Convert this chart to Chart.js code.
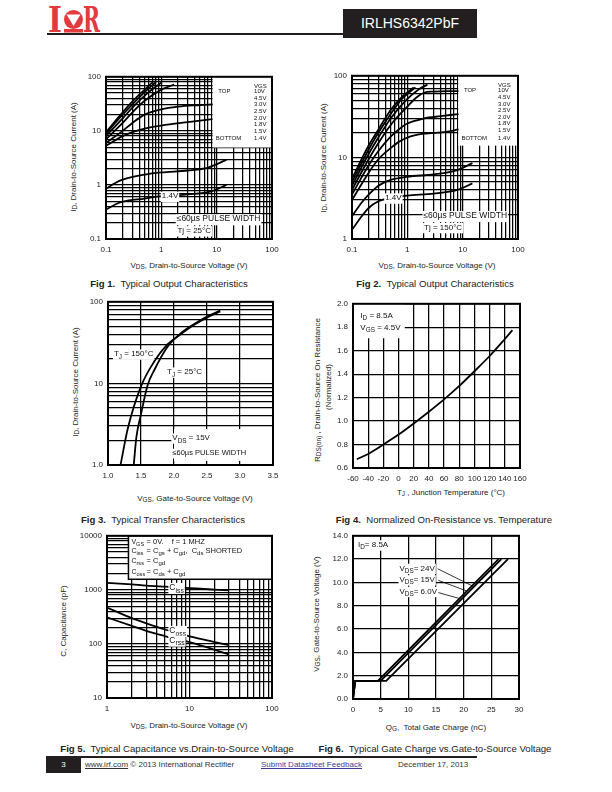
<!DOCTYPE html>
<html>
<head>
<meta charset="utf-8">
<script src="https://cdn.jsdelivr.net/npm/chart.js@4.4.0/dist/chart.umd.min.js"></script>
<style>
body{margin:0;background:#fff;font-family:"Liberation Sans",Arial,sans-serif;color:#222}
#page{position:relative;width:612px;height:792px;overflow:hidden;background:#fff}
.abs{position:absolute;white-space:nowrap}
canvas{position:absolute}
.cap{position:absolute;font-size:9.6px;white-space:nowrap;transform:translate(-50%,-50%)}
.xt{position:absolute;font-size:8px;white-space:nowrap;transform:translate(-50%,-50%)}
.yt{position:absolute;font-size:8px;white-space:nowrap;transform:translate(-50%,-50%) rotate(-90deg)}
sub{font-size:0.8em;vertical-align:-0.3em;line-height:0}
</style>
</head>
<body>
<div id="page">
  <!-- header -->
  <svg class="abs" style="left:47px;top:5px" width="56" height="29">
    <text x="1" y="27" font-family="DejaVu Serif" font-weight="bold" font-size="36" fill="#e23b3f" textLength="14" lengthAdjust="spacingAndGlyphs">I</text>
    <circle cx="26.5" cy="14.5" r="9.5" fill="#e23b3f"/>
    <polygon points="19.5,9.5 33.5,9.5 26.5,21" fill="#fff"/>
    <rect x="17" y="24" width="19" height="3.5" fill="#e23b3f"/>
    <text x="36" y="27" font-family="DejaVu Serif" font-weight="bold" font-size="36" fill="#e23b3f" textLength="17" lengthAdjust="spacingAndGlyphs">R</text>
  </svg>
  <div class="abs" style="left:47px;top:33px;width:296px;height:2px;background:#231f20"></div>
  <div class="abs" style="left:343px;top:9px;width:134px;height:29px;background:#231f20;color:#fff;font-size:14px;line-height:29px;text-align:center">IRLHS6342PbF</div>

  <!-- axis titles and captions -->
  <div class="xt" style="left:189px;top:265px">V<sub>DS</sub>, Drain-to-Source Voltage (V)</div>
  <div class="yt" style="left:73px;top:157px">I<sub>D</sub>, Drain-to-Source Current (A)</div>
  <div class="cap" style="left:169px;top:283px"><b>Fig 1.</b>&nbsp; Typical Output Characteristics</div>

  <div class="xt" style="left:437px;top:265px">V<sub>DS</sub>, Drain-to-Source Voltage (V)</div>
  <div class="yt" style="left:323px;top:158px">I<sub>D</sub>, Drain-to-Source Current (A)</div>
  <div class="cap" style="left:435px;top:283px"><b>Fig 2.</b>&nbsp; Typical Output Characteristics</div>

  <div class="xt" style="left:195px;top:498px">V<sub>GS</sub>, Gate-to-Source Voltage (V)</div>
  <div class="yt" style="left:75px;top:382px">I<sub>D</sub>, Drain-to-Source Current (A)</div>
  <div class="cap" style="left:163px;top:519px"><b>Fig 3.</b>&nbsp; Typical Transfer Characteristics</div>

  <div class="xt" style="left:451px;top:492px">T<sub>J</sub> , Junction Temperature (°C)</div>
  <div class="yt" style="left:317px;top:390px">R<sub>DS(on)</sub> , Drain-to-Source On Resistance</div>
  <div class="yt" style="left:328px;top:387px">(Normalized)</div>
  <div class="cap" style="left:444px;top:519px"><b>Fig 4.</b>&nbsp; Normalized On-Resistance vs. Temperature</div>

  <div class="xt" style="left:189px;top:725px">V<sub>DS</sub>, Drain-to-Source Voltage (V)</div>
  <div class="yt" style="left:63px;top:621px">C, Capacitance (pF)</div>
  <div class="cap" style="left:177px;top:748px"><b>Fig 5.</b>&nbsp; Typical Capacitance vs.Drain-to-Source Voltage</div>

  <div class="xt" style="left:436px;top:727px">Q<sub>G</sub>,&nbsp; Total Gate Charge (nC)</div>
  <div class="yt" style="left:316px;top:614px">V<sub>GS</sub>, Gate-to-Source Voltage (V)</div>
  <div class="cap" style="left:435px;top:748px"><b>Fig 6.</b>&nbsp; Typical Gate Charge vs.Gate-to-Source Voltage</div>

  <!-- footer -->
  <div class="abs" style="left:46px;top:756px;width:431px;height:2px;background:#231f20"></div>
  <div class="abs" style="left:46px;top:756px;width:35px;height:17px;background:#231f20;color:#fff;font-size:8px;line-height:18px;text-align:center">3</div>
  <div class="abs" style="left:85px;top:760px;font-size:8px;color:#333"><span style="text-decoration:underline">www.irf.com</span> © 2013 International Rectifier</div>
  <div class="abs" style="left:261px;top:760px;font-size:8px;color:#3b3b9a;text-decoration:underline">Submit Datasheet Feedback</div>
  <div class="abs" style="left:398px;top:760px;font-size:8px;color:#333">December 17, 2013</div>
</div>

<script>
// Fig 1 / Fig 2: output characteristics, one curve per VGS step (top to bottom)
const vgsSteps = ['10V', '4.5V', '3.0V', '2.5V', '2.0V', '1.8V', '1.5V', '1.4V'];
const f1Vds = [
  [0.1, 0.2, 0.3, 0.5, 0.7],
  [0.1, 0.2, 0.3, 0.5, 0.8],
  [0.1, 0.2, 0.3, 0.5, 0.8, 1.0],
  [0.1, 0.2, 0.3, 0.5, 1, 1.7],
  [0.1, 0.2, 0.3, 0.5, 1, 2, 5, 8.4],
  [0.1, 0.2, 0.3, 0.5, 1, 3, 8.4],
  [0.1, 0.15, 0.2, 0.5, 1, 3, 7, 15],
  [0.1, 0.15, 0.2, 0.5, 1, 3, 8, 15]
];
const f1Id = [
  [9.5, 22, 35, 58, 80],
  [9, 20, 31, 52, 80],
  [8, 17, 27, 45, 66, 78],
  [7, 14, 22, 36, 58, 72],
  [6, 10, 14, 20, 25, 28, 30, 31],
  [5.3, 8, 9.5, 11, 12.5, 14.5, 16.5],
  [0.85, 1.1, 1.25, 1.55, 1.7, 1.85, 2.1, 2.9],
  [0.35, 0.44, 0.49, 0.56, 0.62, 0.67, 0.76, 1.0]
];
const f2Vds = [
  [0.1, 0.2, 0.3, 0.5, 0.8, 1.3],
  [0.1, 0.2, 0.3, 0.5, 0.8, 1.4],
  [0.1, 0.2, 0.3, 0.5, 1, 1.6, 2.3],
  [0.1, 0.2, 0.3, 0.5, 1, 1.5, 2, 3, 8.4],
  [0.1, 0.2, 0.3, 0.5, 0.7, 1, 2, 4, 8.4],
  [0.1, 0.2, 0.3, 0.5, 0.7, 1, 2, 5, 8.4],
  [0.1, 0.15, 0.2, 0.3, 0.5, 1, 3, 8, 15],
  [0.1, 0.15, 0.2, 0.3, 0.5, 1, 3, 8, 15]
];
const f2Id = [
  [5.5, 14, 22, 38, 55, 72],
  [5, 12.5, 20, 34, 52, 72],
  [4.5, 11, 17.5, 30, 52, 68, 78],
  [4, 9.5, 15, 25, 42, 55, 62, 64, 65],
  [3.5, 8, 12, 18, 22, 26, 30, 32, 34],
  [3, 6.5, 9.5, 13, 15.5, 17.5, 19.5, 20.5, 22],
  [1.9, 2.8, 3.5, 4.5, 5.3, 5.8, 6.2, 7.0, 8.5],
  [1.3, 1.9, 2.4, 2.9, 3.2, 3.4, 3.6, 4.0, 4.8]
];
const outXTicks = [0.1, 1, 10, 100];
const outXLabels = ['0.1', '1', '10', '100'];
const f1YTicks = [0.1, 1, 10, 100];
const f1YLabels = ['0.1', '1', '10', '100'];
const f2YTicks = [1, 10, 100];
const f2YLabels = ['1', '10', '100'];

// Fig 3: transfer characteristics
const f3Vgs150 = [1.19, 1.3, 1.5, 1.7, 1.9, 2.1, 2.3, 2.5, 2.7];
const f3Id150 = [1.0, 2.8, 9.2, 18.5, 30, 40, 52, 64, 76];
const f3Vgs25 = [1.39, 1.43, 1.5, 1.6, 1.7, 1.9, 2.1, 2.3, 2.5, 2.7];
const f3Id25 = [1.0, 2.2, 4.2, 9.5, 14.5, 28, 41, 53, 66, 78];
const f3XTicks = [1.0, 1.5, 2.0, 2.5, 3.0, 3.5];
const f3XLabels = ['1.0', '1.5', '2.0', '2.5', '3.0', '3.5'];
const f3YTicks = [1, 10, 100];
const f3YLabels = ['1.0', '10', '100'];

// Fig 4: normalized RDS(on) vs junction temperature
const f4Tj = [-55, -40, -20, 0, 20, 40, 60, 80, 100, 120, 140, 150];
const f4Rds = [0.675, 0.72, 0.80, 0.885, 0.98, 1.08, 1.185, 1.30, 1.425, 1.555, 1.70, 1.775];
const f4XTicks = [-60, -40, -20, 0, 20, 40, 60, 80, 100, 120, 140, 160];
const f4XLabels = ['-60', '-40', '-20', '0', '20', '40', '60', '80', '100', '120', '140', '160'];
const f4YTicks = [0.6, 0.8, 1.0, 1.2, 1.4, 1.6, 1.8, 2.0];
const f4YLabels = ['0.6', '0.8', '1.0', '1.2', '1.4', '1.6', '1.8', '2.0'];

// Fig 5: capacitances
const f5Vds = [1, 2, 3, 5, 7, 10, 15, 20, 30];
const f5Ciss = [1350, 1260, 1200, 1150, 1120, 1080, 1040, 1010, 980];
const f5Coss = [470, 300, 240, 185, 160, 138, 120, 108, 95];
const f5Crss = [310, 215, 175, 140, 122, 108, 90, 78, 64];
const f5XTicks = [1, 10, 100];
const f5XLabels = ['1', '10', '100'];
const f5YTicks = [10, 100, 1000, 10000];
const f5YLabels = ['10', '100', '1000', '10000'];

// Fig 6: gate charge, VDS = 6V / 15V / 24V
const f6Q6 = [0, 0.4, 4.5, 26.3];
const f6Q15 = [0, 0.4, 5.0, 26.8];
const f6Q24 = [0, 0.4, 6.0, 28.0];
const f6Vgs = [0, 1.55, 1.55, 12];
const f6XTicks = [0, 5, 10, 15, 20, 25, 30];
const f6XLabels = ['0', '5', '10', '15', '20', '25', '30'];
const f6YTicks = [0, 2, 4, 6, 8, 10, 12, 14];
const f6YLabels = ['0.0', '2.0', '4.0', '6.0', '8.0', '10.0', '12.0', '14.0'];

const FONT = '"Liberation Sans", Arial, sans-serif';
const page = document.getElementById('page');

// grid positions for a log axis: 1..9 x each decade
function logGrid(min, max){
  const out = [];
  for(let e = Math.round(Math.log10(min)); e < Math.round(Math.log10(max)); e++){
    for(let m = 1; m < 10; m++) out.push(Number((m * Math.pow(10, e)).toPrecision(3)));
  }
  out.push(max);
  return out;
}

// draw text with "_xx" parts as subscripts
function rich(ctx, x, y, parts, size, bg){
  const w = parts.reduce((s, p) => {
    const sub = p[0] === '_';
    ctx.font = (sub ? size * 0.8 : size) + 'px ' + FONT;
    return s + ctx.measureText(sub ? p.slice(1) : p).width;
  }, 0);
  if(bg){ ctx.fillStyle = '#fff'; ctx.fillRect(x - 1, y - size * 0.85, w + 2, size * 1.3); }
  ctx.fillStyle = '#111';
  ctx.textBaseline = 'alphabetic'; ctx.textAlign = 'left';
  let cx = x;
  parts.forEach(p => {
    const sub = p[0] === '_';
    const t = sub ? p.slice(1) : p;
    ctx.font = (sub ? size * 0.8 : size) + 'px ' + FONT;
    ctx.fillText(t, cx, sub ? y + size * 0.3 : y);
    cx += ctx.measureText(t).width;
  });
}

Chart.register({
  id: 'notes',
  beforeDatasetsDraw(chart, args, o){
    const a = chart.chartArea, ctx = chart.ctx, W = a.right - a.left, H = a.bottom - a.top;
    (o.boxes || []).forEach(b => {
      ctx.save();
      ctx.fillStyle = '#fff';
      ctx.fillRect(a.left + b[0] * W, a.top + b[1] * H, (b[2] - b[0]) * W, (b[3] - b[1]) * H);
      if(b[4]){ ctx.strokeStyle = '#000'; ctx.lineWidth = 1.5; ctx.strokeRect(a.left + b[0] * W, a.top + b[1] * H, (b[2] - b[0]) * W, (b[3] - b[1]) * H); }
      ctx.restore();
    });
  },
  afterDatasetsDraw(chart, args, o){
    const a = chart.chartArea, ctx = chart.ctx, W = a.right - a.left, H = a.bottom - a.top;
    ctx.save();
    (o.leaders || []).forEach(l => {
      ctx.strokeStyle = '#000'; ctx.lineWidth = 0.8;
      ctx.beginPath(); ctx.moveTo(a.left + l[0] * W, a.top + l[1] * H); ctx.lineTo(a.left + l[2] * W, a.top + l[3] * H); ctx.stroke();
    });
    (o.texts || []).forEach(t => rich(ctx, a.left + t[0] * W, a.top + t[1] * H, t[2], t[3] || 8, t[4]));
    ctx.restore();
  },
  afterDraw(chart){
    const a = chart.chartArea, ctx = chart.ctx;
    ctx.save(); ctx.strokeStyle = '#000'; ctx.lineWidth = 2;
    ctx.strokeRect(a.left, a.top, a.right - a.left, a.bottom - a.top);
    ctx.restore();
  }
});

function axis(type, min, max, grid, vals, labels, isY){
  return {
    type, min, max,
    afterBuildTicks: s => { s.ticks = grid.map(v => ({value: v})); },
    afterFit: s => { if(isY) s.width = 34; else s.height = 20; },
    ticks: {
      autoSkip: false, maxRotation: 0, minRotation: 0, padding: isY ? 5 : 6, color: '#222',
      font: {family: FONT, size: 8},
      callback: v => {
        const i = vals.findIndex(t => Math.abs(t - v) < 1e-6 * Math.max(1, Math.abs(t)));
        return i < 0 ? '' : labels[i];
      }
    },
    grid: {color: '#000', lineWidth: 1.25, drawTicks: false},
    border: {display: false}
  };
}

function series(xs, ys, smooth){
  return {
    data: xs.map((x, i) => ({x, y: ys[i]})),
    showLine: true, pointRadius: 0, borderColor: '#000', borderWidth: 1.8, fill: false,
    cubicInterpolationMode: smooth ? 'monotone' : 'default', tension: 0
  };
}

function makeChart(plot, xa, ya, datasets, notes){
  const c = document.createElement('canvas');
  const w = plot.w + 34 + 16, h = plot.h + 8 + 20;
  c.width = w; c.height = h;
  c.style.left = (plot.l - 34) + 'px'; c.style.top = (plot.t - 8) + 'px';
  c.style.width = w + 'px'; c.style.height = h + 'px';
  page.appendChild(c);
  new Chart(c, {
    type: 'scatter',
    data: {datasets},
    options: {
      responsive: false, animation: false, events: [],
      layout: {padding: {left: 0, top: 8, right: 16, bottom: 0}},
      scales: {x: xa, y: ya},
      plugins: {legend: {display: false}, tooltip: {enabled: false}, notes}
    }
  });
}

// legend block used by fig 1 and 2
function vgsLegend(x1, x2, y0, dy){
  const t = [[x2, y0 - dy * 0.85, ['VGS'], 6]];
  vgsSteps.forEach((s, i) => {
    const y = y0 + i * dy + (i === 7 ? dy * 0.15 : 0);
    t.push([x2, y, [s], 6]);
    if(i === 0) t.push([x1, y, ['TOP'], 6]);
    if(i === 7) t.push([x1 - 0.015, y, ['BOTTOM'], 6]);
  });
  return t;
}

// Fig 1
makeChart({l: 106, t: 75, w: 166, h: 164},
  axis('logarithmic', 0.1, 100, logGrid(0.1, 100), outXTicks, outXLabels, false),
  axis('logarithmic', 0.1, 100, logGrid(0.1, 100), f1YTicks, f1YLabels, true),
  vgsSteps.map((s, i) => series(f1Vds[i], f1Id[i], true)),
  {
    boxes: [[0.642, 0, 1, 0.436]],
    texts: vgsLegend(0.676, 0.892, 0.101, 0.0406).concat([
      [0.336, 0.75, ['1.4V'], 8, true],
      [0.426, 0.892, ['≤60µs PULSE WIDTH'], 8.5, true],
      [0.43, 0.963, ['Tj = 25°C'], 8, true]
    ])
  });

// Fig 2
makeChart({l: 352, t: 74, w: 166, h: 165},
  axis('logarithmic', 0.1, 100, logGrid(0.1, 100), outXTicks, outXLabels, false),
  axis('logarithmic', 1, 100, logGrid(1, 100), f2YTicks, f2YLabels, true),
  vgsSteps.map((s, i) => series(f2Vds[i], f2Id[i], true)),
  {
    boxes: [[0.64, 0, 1, 0.428]],
    texts: vgsLegend(0.674, 0.88, 0.101, 0.0405).concat([
      [0.2, 0.762, ['1.4V'], 8, true],
      [0.43, 0.873, ['≤60µs PULSE WIDTH'], 8.5, true],
      [0.434, 0.943, ['Tj = 150°C'], 8, true]
    ])
  });

// Fig 3
makeChart({l: 108, t: 300, w: 165, h: 165},
  axis('linear', 1.0, 3.5, f3XTicks, f3XTicks, f3XLabels, false),
  axis('logarithmic', 1, 100, logGrid(1, 100), f3YTicks, f3YLabels, true),
  [series(f3Vgs150, f3Id150, true), series(f3Vgs25, f3Id25, true)],
  {
    boxes: [[0.4, 0.78, 1, 0.975]],
    texts: [
      [0.036, 0.333, ['T', '_J', ' = 150°C'], 8, true],
      [0.358, 0.444, ['T', '_J', ' = 25°C'], 8, true],
      [0.39, 0.848, ['V', '_DS', ' = 15V'], 8, true],
      [0.39, 0.939, ['≤60µs PULSE WIDTH'], 7.5, true]
    ]
  });

// Fig 4
makeChart({l: 353, t: 302, w: 167, h: 166},
  axis('linear', -60, 160, f4XTicks, f4XTicks, f4XLabels, false),
  axis('linear', 0.6, 2.0, f4YTicks, f4YTicks, f4YLabels, true),
  [series(f4Tj, f4Rds, true)],
  {
    boxes: [[0, 0, 0.31, 0.21]],
    texts: [
      [0.044, 0.086, ['I', '_D', ' = 8.5A'], 8],
      [0.044, 0.16, ['V', '_GS', ' = 4.5V'], 8]
    ]
  });

// Fig 5
makeChart({l: 107, t: 534, w: 165, h: 164},
  axis('logarithmic', 1, 100, logGrid(1, 100), f5XTicks, f5XLabels, false),
  axis('logarithmic', 10, 10000, logGrid(10, 10000), f5YTicks, f5YLabels, true),
  [series(f5Vds, f5Ciss, true), series(f5Vds, f5Coss, true), series(f5Vds, f5Crss, true)],
  {
    boxes: [[0.13, 0, 1, 0.268, true]],
    texts: [
      [0.148, 0.05, ['V', '_GS'], 7], [0.24, 0.05, ['= 0V.'], 7.5], [0.392, 0.05, ['f = 1 MHZ'], 7.5],
      [0.148, 0.107, ['C', '_iss'], 7], [0.24, 0.107, ['= C', '_gs', ' + C', '_gd', ',  C', '_ds', ' SHORTED'], 7.5],
      [0.148, 0.168, ['C', '_rss'], 7], [0.24, 0.168, ['= C', '_gd'], 7.5],
      [0.148, 0.233, ['C', '_oss'], 7], [0.24, 0.233, ['= C', '_ds', ' + C', '_gd'], 7.5],
      [0.378, 0.335, ['C', '_iss'], 8.5, true],
      [0.378, 0.6, ['C', '_oss'], 8.5, true],
      [0.378, 0.66, ['C', '_rss'], 8.5, true]
    ]
  });

// Fig 6
makeChart({l: 353, t: 534, w: 166, h: 165},
  axis('linear', 0, 30, f6XTicks, f6XTicks, f6XLabels, false),
  axis('linear', 0, 14, f6YTicks, f6YTicks, f6YLabels, true),
  [series(f6Q6, f6Vgs, false), series(f6Q15, f6Vgs, false), series(f6Q24, f6Vgs, false)],
  {
    leaders: [[0.51, 0.202, 0.728, 0.312], [0.514, 0.273, 0.684, 0.338], [0.514, 0.348, 0.644, 0.385]],
    texts: [
      [0.03, 0.069, ['I', '_D', '= 8.5A'], 8, true],
      [0.28, 0.213, ['V', '_DS', '= 24V'], 8, true],
      [0.28, 0.283, ['V', '_DS', '= 15V'], 8, true],
      [0.28, 0.354, ['V', '_DS', '= 6.0V'], 8, true]
    ]
  });
</script>
</body>
</html>
